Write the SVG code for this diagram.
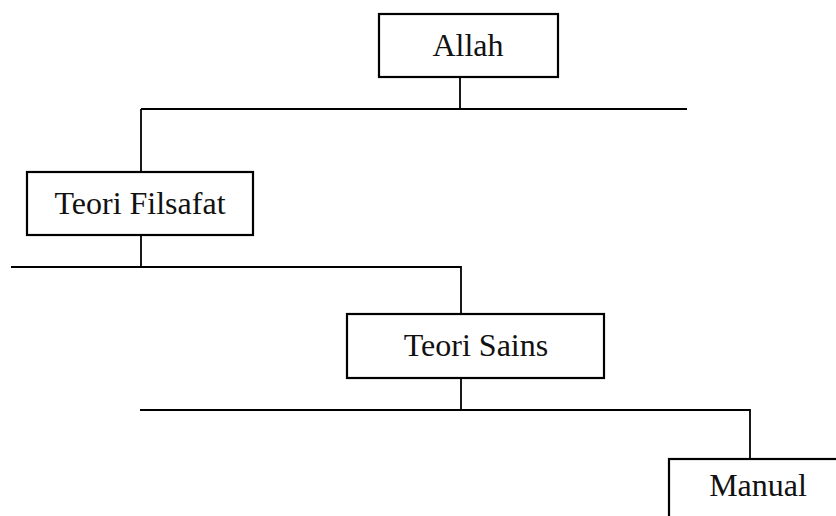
<svg xmlns="http://www.w3.org/2000/svg" width="836" height="516" viewBox="0 0 836 516">
<style>
.box{fill:#fff;stroke:#000;stroke-width:2.2}
.ln{fill:none;stroke:#000;stroke-width:1.8}
.t{font-family:"Liberation Serif","Times New Roman",serif;font-size:32px;fill:#111;text-anchor:middle}
</style>
<rect width="836" height="516" fill="#fff"/>
<g id="connectors">
<path class="ln" d="M460 77 V109 M141 109 H687 M141 109 V172"/>
<path class="ln" d="M141 235 V267 M11 267 H461 V314"/>
<path class="ln" d="M461 378 V410 M140 410 H750 V459"/>
</g>
<g id="allah">
<rect class="box" x="379" y="14" width="179" height="63"/>
<text class="t" x="468" y="56">Allah</text>
</g>
<g id="teori-filsafat">
<rect class="box" x="27" y="172" width="226" height="63"/>
<text class="t" x="140" y="214">Teori Filsafat</text>
</g>
<g id="teori-sains">
<rect class="box" x="347" y="314" width="257" height="64"/>
<text class="t" x="476" y="356">Teori Sains</text>
</g>
<g id="manual">
<rect class="box" x="669" y="459" width="190" height="70"/>
<text class="t" x="758" y="496">Manual</text>
</g>
</svg>
